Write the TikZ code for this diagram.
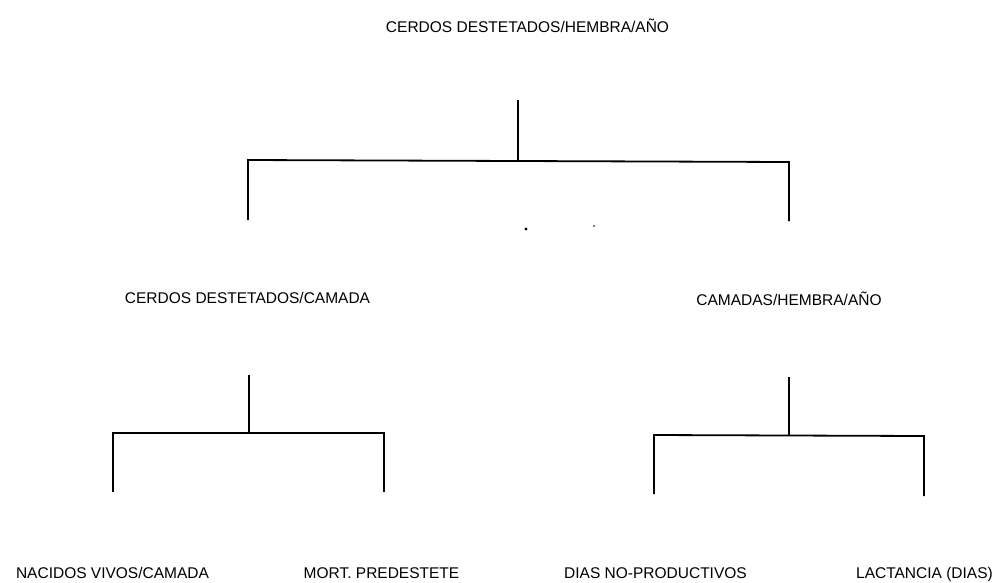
\documentclass[tikz,border=0pt]{standalone}
\usepackage{fontspec}
\setmainfont{Liberation Sans}
\begin{document}
\begin{tikzpicture}[x=1pt,y=-1pt,
  lbl/.style={font=\fontsize{15.5}{18}\selectfont, anchor=base, inner sep=0pt},
  br/.style={line width=1.8pt, line join=miter}]
\useasboundingbox (0,0) rectangle (998,582);
% labels
\node[lbl] (t0) at (527.5,32) {CERDOS DESTETADOS/HEMBRA/AÑO};
\node[lbl] (m1) at (247.5,303) {CERDOS DESTETADOS/CAMADA};
\node[lbl] (m2) at (789,305) {CAMADAS/HEMBRA/AÑO};
\node[lbl] (b1) at (112.5,578) {NACIDOS VIVOS/CAMADA};
\node[lbl] (b2) at (381.5,578) {MORT. PREDESTETE};
\node[lbl] (b3) at (655.5,578) {DIAS NO-PRODUCTIVOS};
\node[lbl] (b4) at (924.5,578) {LACTANCIA (DIAS)};
% top bracket
\coordinate (ta) at (518,100);
\coordinate (tb) at (518,161);
\coordinate (tl0) at (248,220);
\coordinate (tl1) at (248,160);
\coordinate (tr1) at (789,162);
\coordinate (tr0) at (789,221);
\draw[br] (ta) -- (tb);
\draw[br] (tl0) -- (tl1) -- (tr1) -- (tr0);
% left sub bracket
\coordinate (la) at (249,375);
\coordinate (lb) at (249,433);
\coordinate (ll0) at (113,492);
\coordinate (ll1) at (113,433);
\coordinate (lr1) at (384,433);
\coordinate (lr0) at (384,492);
\draw[br] (la) -- (lb);
\draw[br] (ll0) -- (ll1) -- (lr1) -- (lr0);
% right sub bracket
\coordinate (ra) at (789,377);
\coordinate (rb) at (789,435);
\coordinate (rl0) at (654,494);
\coordinate (rl1) at (654,435);
\coordinate (rr1) at (924,436);
\coordinate (rr0) at (924,496);
\draw[br] (ra) -- (rb);
\draw[br] (rl0) -- (rl1) -- (rr1) -- (rr0);
% specks
\coordinate (d1) at (526,229);
\coordinate (d2) at (594,226);
\fill (d1) circle (1.6);
\fill (d2) circle (0.8);
\end{tikzpicture}
\end{document}
